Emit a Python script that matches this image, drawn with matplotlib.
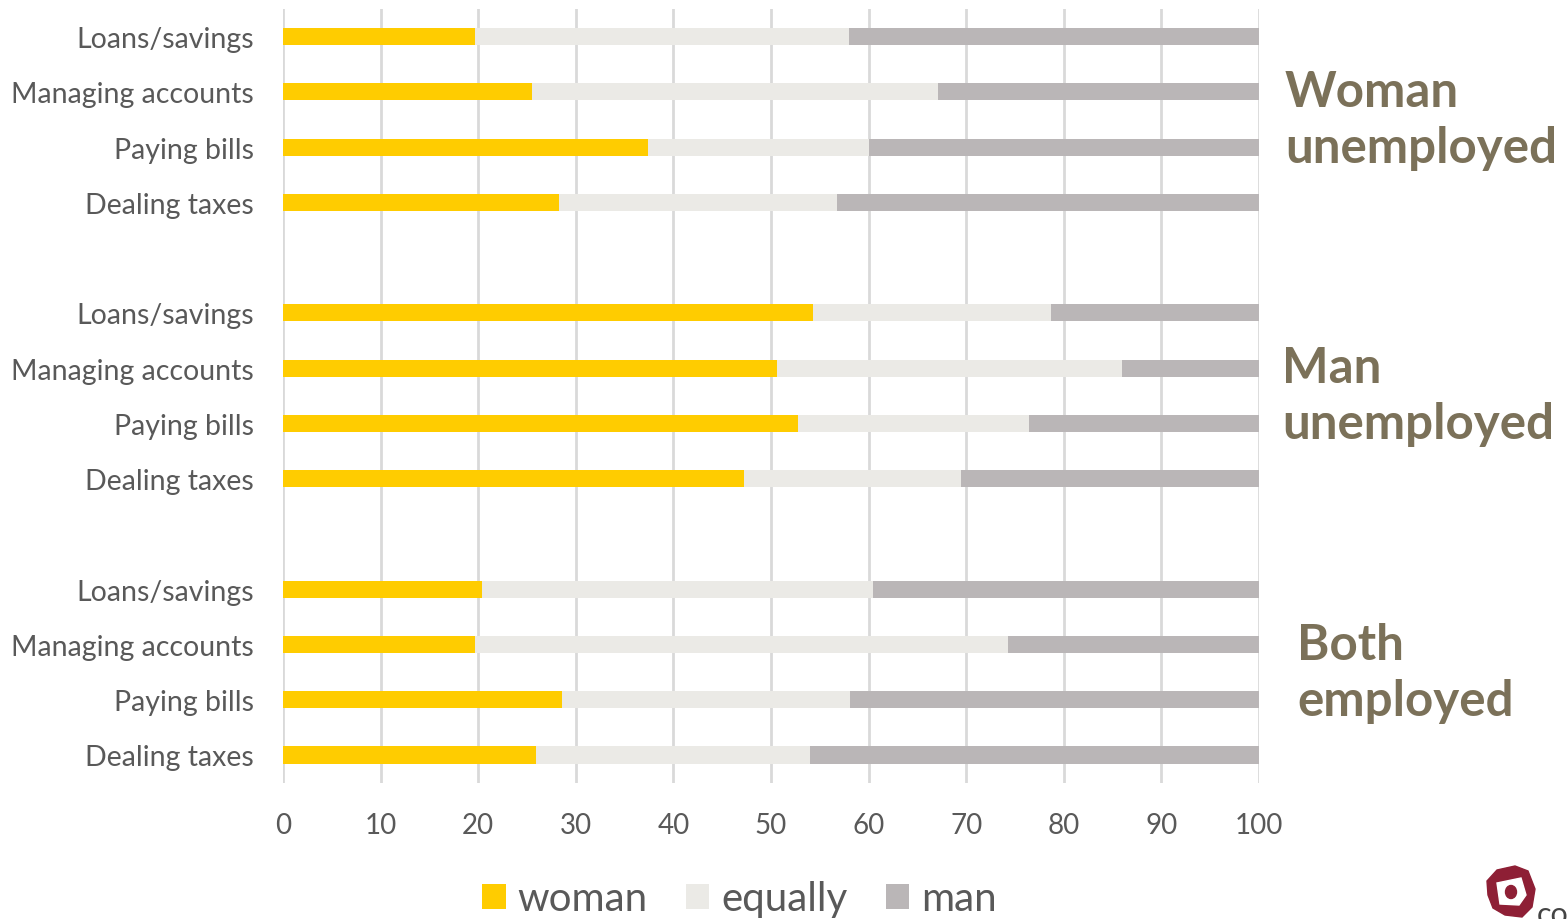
import matplotlib.pyplot as plt
from matplotlib.patches import Polygon, Ellipse

plt.rcParams['font.family'] = ['Lato', 'DejaVu Sans']

tasks = ["Loans/savings", "Managing accounts", "Paying bills", "Dealing taxes"]
groups = ["Woman\nunemployed", "Man\nunemployed", "Both\nemployed"]

# share (%) of couples where the task is done by the woman / equally / the man
woman = [19.7, 25.5, 37.4, 28.3,
         54.3, 50.6, 52.8, 47.2,
         20.4, 19.7, 28.6, 25.9]
equally = [38.3, 41.6, 22.6, 28.5,
           24.4, 35.4, 23.6, 22.3,
           40.1, 54.6, 29.5, 28.1]
man = [round(100 - w - e, 1) for w, e in zip(woman, equally)]

c_woman = "#FFCC00"
c_equal = "#EBEAE6"
c_man = "#BAB6B7"
txt = "#595959"

# four rows per group, one empty slot between groups
ypos = [g * 5 + i for g in range(3) for i in range(4)]
labels = tasks * 3

W, H = 1567, 920
fig = plt.figure(figsize=(W / 100, H / 100), dpi=100)
ax = fig.add_axes([283 / W, 1 - 783.6 / H, (1259 - 283) / W, (783.6 - 10) / H])

h = 0.31
ax.barh(ypos, woman, height=h, color=c_woman, label="woman")
ax.barh(ypos, equally, left=woman, height=h, color=c_equal, label="equally")
left_man = [w + e for w, e in zip(woman, equally)]
ax.barh(ypos, man, left=left_man, height=h, color=c_man, label="man")

ax.set_xlim(0, 100)
ax.set_ylim(13.5, -0.5)
ax.set_xticks(range(0, 101, 10))
ax.set_yticks(ypos)
ax.set_yticklabels(labels)
ax.tick_params(axis="y", length=0, pad=21, labelsize=20.5, labelcolor=txt)
ax.tick_params(axis="x", length=0, pad=21, labelsize=20, labelcolor=txt)
ax.xaxis.grid(True, color="#D9D9D9", linewidth=2)
ax.set_axisbelow(True)
for s in ax.spines.values():
    s.set_visible(False)

# group captions to the right of the bars
cap_color = "#7B7159"
cap_x = [1285, 1282, 1297]
for g, (name, xpx) in enumerate(zip(groups, cap_x)):
    y_mid = g * 5 + 1.5
    ax.annotate(name, xy=(xpx / W, y_mid), xycoords=("figure fraction", "data"),
                ha="left", va="center", fontsize=35.5, fontweight="bold",
                color=cap_color, linespacing=1.3, annotation_clip=False)

fig.legend(loc="center", bbox_to_anchor=(0.472, 0.022), ncol=3, frameon=False,
           fontsize=29, handlelength=0.58, handleheight=0.58, handletextpad=0.3,
           columnspacing=0.95, labelcolor=txt)

# small logo in the corner
def px(pts):
    return [[x / W, 1 - y / H] for x, y in pts]

outer = Polygon(px([(1487, 882), (1497, 871), (1515, 867), (1528, 872), (1535, 890),
                    (1532, 908), (1522, 918), (1505, 916), (1493, 909), (1488, 896)]),
                closed=True, transform=fig.transFigure, color="#8E1F35")
inner = Polygon(px([(1497, 884), (1521, 879), (1526, 896), (1519, 906), (1500, 905)]),
                closed=True, transform=fig.transFigure, color="white")
dot = Ellipse((1511 / W, 1 - 893 / H), 11 / W, 13 / H, transform=fig.transFigure,
              color="#8E1F35")
fig.patches.extend([outer, inner, dot])
fig.text(1537 / W, 1 - 929 / H, "co", fontsize=22, color="#444444", ha="left", va="bottom")

fig.savefig("out.png", dpi=100)
